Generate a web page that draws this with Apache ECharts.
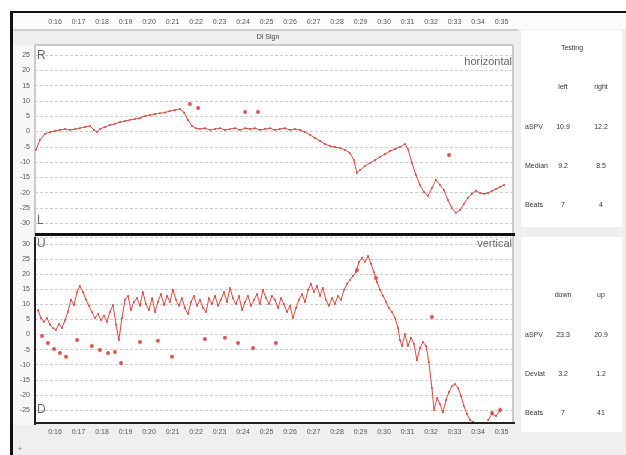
<!DOCTYPE html>
<html>
<head>
<meta charset="utf-8">
<script src="https://cdn.jsdelivr.net/npm/echarts@6/dist/echarts.min.js"></script>
<style>
  html, body { margin: 0; padding: 0; background: #fff; }
  #chart { width: 626px; height: 455px; }
</style>
</head>
<body>
<div id="chart"></div>
<script>
// horizontal trace (deg/s over time in s)
var hTime = [15.19,15.36,15.57,15.79,16.00,16.21,16.43,16.64,16.85,17.06,17.28,17.49,17.66,17.79,17.91,18.13,18.34,18.55,18.77,18.98,19.19,19.40,19.62,19.83,20.04,20.26,20.47,20.68,20.89,21.11,21.32,21.49,21.66,21.83,22.00,22.17,22.38,22.60,22.81,23.02,23.23,23.45,23.66,23.87,24.09,24.30,24.51,24.72,24.94,25.15,25.36,25.57,25.79,26.00,26.21,26.43,26.64,26.85,27.06,27.28,27.49,27.70,27.91,28.13,28.34,28.55,28.72,28.85,28.98,29.19,29.40,29.62,29.83,30.04,30.26,30.47,30.68,30.89,31.02,31.19,31.36,31.53,31.70,31.87,32.04,32.21,32.38,32.55,32.72,32.89,33.06,33.23,33.40,33.57,33.74,33.91,34.09,34.26,34.43,34.60,34.77,34.94,35.11];
var hVal = [-6.0,-2.8,-0.8,-0.2,0.2,0.5,0.8,0.5,0.8,1.1,1.5,1.8,0.5,-0.2,0.8,1.5,2.1,2.5,3.1,3.4,3.8,4.1,4.4,5.1,5.4,5.7,6.0,6.2,6.7,7.0,7.4,6.2,3.8,1.8,1.1,0.8,1.1,0.5,0.8,1.1,0.5,0.8,1.1,0.5,1.1,0.8,1.1,0.5,0.8,1.1,0.5,0.8,1.1,0.5,0.8,0.5,-0.2,-1.1,-2.1,-3.1,-4.1,-4.7,-5.1,-5.4,-6.0,-7.0,-9.3,-13.6,-12.6,-11.3,-10.3,-9.3,-8.3,-7.4,-6.4,-5.7,-5.1,-4.1,-5.7,-10.3,-14.2,-17.5,-19.8,-21.1,-18.5,-15.8,-17.5,-19.1,-22.4,-25.0,-26.6,-25.7,-23.7,-21.7,-20.4,-19.4,-20.1,-20.4,-20.1,-19.4,-18.8,-18.1,-17.5];
var hOutTime = [21.74,22.09,24.09,24.64,32.77];
var hOutVal = [9.0,7.7,6.4,6.4,-7.7];

// vertical trace
var vTime = [15.28,15.40,15.53,15.66,15.79,15.91,16.04,16.17,16.30,16.43,16.55,16.68,16.81,16.94,17.06,17.19,17.32,17.45,17.57,17.70,17.83,17.96,18.09,18.21,18.34,18.47,18.60,18.72,18.85,18.98,19.11,19.23,19.36,19.49,19.62,19.74,19.87,20.00,20.13,20.26,20.38,20.51,20.64,20.77,20.89,21.02,21.15,21.28,21.40,21.53,21.66,21.79,21.91,22.04,22.17,22.30,22.43,22.55,22.68,22.81,22.94,23.06,23.19,23.32,23.45,23.57,23.70,23.83,23.96,24.09,24.21,24.34,24.47,24.60,24.72,24.85,24.98,25.11,25.23,25.36,25.49,25.62,25.74,25.87,26.00,26.13,26.26,26.38,26.51,26.64,26.77,26.89,27.02,27.15,27.28,27.40,27.53,27.66,27.79,27.91,28.04,28.17,28.30,28.43,28.55,28.68,28.81,28.94,29.06,29.19,29.32,29.45,29.57,29.70,29.83,29.96,30.09,30.21,30.34,30.47,30.60,30.68,30.77,30.89,31.02,31.15,31.28,31.40,31.53,31.66,31.79,31.91,32.04,32.13,32.26,32.38,32.51,32.64,32.77,32.89,33.02,33.15,33.28,33.40,33.53,33.66,33.79,34.10,34.43,34.60,34.77,34.94];
var vVal = [8.1,5.5,4.2,5.5,3.2,2.2,1.5,3.5,2.2,4.8,7.5,11.5,9.8,14.1,16.1,14.1,11.5,9.5,7.5,5.5,6.8,4.8,6.2,4.2,7.5,9.8,3.2,-1.8,5.5,11.5,12.8,8.1,10.8,12.1,9.5,14.1,10.1,8.1,12.1,7.5,10.8,13.4,9.8,12.8,10.8,14.8,11.5,9.5,12.1,8.8,6.8,10.8,12.8,9.5,11.5,8.8,7.5,12.1,10.1,12.8,9.5,11.5,14.1,10.8,15.4,12.1,10.1,12.8,8.1,10.8,12.8,9.5,11.5,13.4,10.1,14.8,12.1,10.1,12.8,11.5,8.8,12.1,10.1,7.5,9.5,5.5,8.8,11.5,13.4,10.8,14.8,16.8,14.1,16.1,12.8,15.4,11.5,9.5,12.1,10.1,12.8,11.5,14.8,16.8,18.1,19.4,20.7,24.1,25.4,24.1,26.0,23.4,20.7,17.4,14.8,12.8,10.8,8.8,7.5,5.5,2.2,-1.8,-3.8,0.2,-3.8,-1.1,-3.1,-8.5,-4.5,-2.5,-3.8,-9.1,-17.7,-25.0,-21.0,-23.0,-25.7,-21.7,-19.0,-17.1,-16.4,-17.7,-20.4,-23.7,-26.3,-28.3,-28.9,null,-28.3,-26.3,-27.0,-25.0];
var vOutTime = [15.45,15.70,15.96,16.21,16.47,16.94,17.57,17.91,18.26,18.55,18.81,19.62,20.38,20.98,22.38,23.23,23.79,24.43,25.40,28.85,29.66,32.04,34.60,34.94];
var vOutVal = [-0.5,-2.8,-4.8,-6.1,-7.4,-1.8,-3.8,-5.1,-6.1,-5.8,-9.4,-2.5,-2.1,-7.4,-1.5,-1.1,-2.8,-4.5,-2.8,21.4,18.7,5.8,-26.0,-25.0];

// side tables
var hCols = ['left', 'right'];
var hRows = ['aSPV', 'Median', 'Beats'];
var hCells = [['10.9', '12.2'], ['9.2', '8.5'], ['7', '4']];
var vCols = ['down', 'up'];
var vRows = ['aSPV', 'Deviat', 'Beats'];
var vCells = [['23.3', '20.9'], ['3.2', '1.2'], ['7', '41']];

function zip(t, v) {
  return t.map(function (x, i) { return v[i] == null ? [x, null] : [x, v[i]]; });
}

var RED = '#e8453c';
var FONT = 'Liberation Sans';
var chart = echarts.init(document.getElementById('chart'));

var xBase = {
  type: 'value', min: 15.15, max: 35.49, splitNumber: 20,
  axisLine: { show: false }, axisTick: { show: false }, splitLine: { show: false },
  axisLabel: {
    fontSize: 7, color: '#555', fontFamily: FONT,
    showMinLabel: false, showMaxLabel: false,
    formatter: function (v) { return '0:' + v; }
  }
};
function yAxisOf(idx, lo, hi) {
  return {
    type: 'value', gridIndex: idx, min: lo, max: hi, splitNumber: 12,
    axisLine: { show: false }, axisTick: { show: false },
    axisLabel: { fontSize: 7, color: '#555', margin: 5, fontFamily: FONT,
      showMinLabel: false, showMaxLabel: false },
    splitLine: { lineStyle: { color: '#cdcdcd', type: [3, 2], width: 1 } }
  };
}

// background pieces, frames and texts
var g = [
  { type: 'rect', shape: { x: 10, y: 11, width: 616, height: 444 }, style: { fill: '#efefef' }, z: -10 },
  { type: 'rect', shape: { x: 13, y: 13, width: 613, height: 16 }, style: { fill: '#fbfbfb' }, z: -9 },
  { type: 'rect', shape: { x: 13, y: 29, width: 505, height: 2 }, style: { fill: '#cfcfcf' }, z: -9 },
  { type: 'rect', shape: { x: 13, y: 45, width: 22, height: 380 }, style: { fill: '#f7f7f7' }, z: -9 },
  { type: 'rect', shape: { x: 35, y: 45, width: 478, height: 378 }, style: { fill: '#ffffff', stroke: '#9a9a9a', lineWidth: 1 }, z: -8 },
  { type: 'rect', shape: { x: 521, y: 30, width: 101, height: 197 }, style: { fill: '#ffffff' }, z: -8 },
  { type: 'rect', shape: { x: 521, y: 237, width: 101, height: 195 }, style: { fill: '#ffffff' }, z: -8 },
  // outer black frame
  { type: 'rect', shape: { x: 10, y: 11, width: 3, height: 444 }, style: { fill: '#111' }, z: 50 },
  { type: 'rect', shape: { x: 10, y: 11, width: 616, height: 2 }, style: { fill: '#111' }, z: 50 },
  // separator and lower axes
  { type: 'rect', shape: { x: 35, y: 233, width: 480, height: 3 }, style: { fill: '#111' }, z: 50 },
  { type: 'rect', shape: { x: 34, y: 237, width: 2, height: 188 }, style: { fill: '#222' }, z: 50 },
  { type: 'rect', shape: { x: 34, y: 422, width: 481, height: 2 }, style: { fill: '#222' }, z: 50 },
  // corner labels
  { type: 'text', left: 37, top: 50, style: { text: 'R', fontSize: 12, fill: '#666', fontFamily: FONT }, z: 60 },
  { type: 'text', left: 37, top: 215, style: { text: 'L', fontSize: 12, fill: '#666', fontFamily: FONT }, z: 60 },
  { type: 'text', left: 37, top: 238, style: { text: 'U', fontSize: 12, fill: '#666', fontFamily: FONT }, z: 60 },
  { type: 'text', left: 37, top: 404, style: { text: 'D', fontSize: 12, fill: '#666', fontFamily: FONT }, z: 60 },
  { type: 'text', right: 114, top: 56, style: { text: 'horizontal', fontSize: 11, fill: '#666', fontFamily: FONT }, z: 60 },
  { type: 'text', right: 114, top: 238, style: { text: 'vertical', fontSize: 11, fill: '#666', fontFamily: FONT }, z: 60 },
  { type: 'text', x: 268, y: 37, style: { text: 'Dl Sign', fontSize: 7, fill: '#444', align: 'center', verticalAlign: 'middle', fontFamily: FONT }, z: 60 },
  { type: 'text', x: 572, y: 48, style: { text: 'Testing', fontSize: 7, fill: '#333', align: 'center', verticalAlign: 'middle', fontFamily: FONT }, z: 60 },
  { type: 'text', x: 20, y: 449, style: { text: '+', fontSize: 7, fill: '#777', align: 'center', verticalAlign: 'middle' }, z: 60 }
];

function table(cols, rows, cells, top) {
  var colX = [563, 601];
  cols.forEach(function (c, j) {
    g.push({ type: 'text', x: colX[j], y: top, style: { text: c, fontSize: 7, fill: '#333', align: 'center', verticalAlign: 'middle', fontFamily: FONT }, z: 60 });
  });
  rows.forEach(function (r, i) {
    var y = top + 40 + i * 39;
    g.push({ type: 'text', x: 525, y: y, style: { text: r, fontSize: 7, fill: '#333', verticalAlign: 'middle', fontFamily: FONT }, z: 60 });
    cells[i].forEach(function (v, j) {
      g.push({ type: 'text', x: colX[j], y: y, style: { text: v, fontSize: 7, fill: '#333', align: 'center', verticalAlign: 'middle', fontFamily: FONT }, z: 60 });
    });
  });
}
table(hCols, hRows, hCells, 87);
table(vCols, vRows, vCells, 295);

var option = {
  animation: false,
  backgroundColor: '#ffffff',
  grid: [
    { left: 35, right: 113, top: 45, height: 188 },
    { left: 35, right: 113, top: 237, height: 186 }
  ],
  xAxis: [
    echarts.util.merge({ gridIndex: 0, position: 'top', axisLabel: { margin: 19 } }, xBase),
    echarts.util.merge({ gridIndex: 1, position: 'bottom', axisLabel: { margin: 6 } }, xBase)
  ],
  yAxis: [yAxisOf(0, -33.2, 28.3), yAxisOf(1, -29.3, 32.3)],
  graphic: g,
  series: [
    { type: 'line', xAxisIndex: 0, yAxisIndex: 0, data: zip(hTime, hVal),
      symbol: 'circle', symbolSize: 2, showSymbol: true, connectNulls: false,
      lineStyle: { color: RED, width: 1 }, itemStyle: { color: RED } },
    { type: 'scatter', xAxisIndex: 0, yAxisIndex: 0, data: zip(hOutTime, hOutVal),
      symbol: 'circle', symbolSize: 4, itemStyle: { color: '#d82a22' } },
    { type: 'line', xAxisIndex: 1, yAxisIndex: 1, data: zip(vTime, vVal),
      symbol: 'circle', symbolSize: 2, showSymbol: true, connectNulls: false,
      lineStyle: { color: RED, width: 1 }, itemStyle: { color: RED } },
    { type: 'scatter', xAxisIndex: 1, yAxisIndex: 1, data: zip(vOutTime, vOutVal),
      symbol: 'circle', symbolSize: 4, itemStyle: { color: '#d82a22' } }
  ]
};
chart.setOption(option);
</script>
</body>
</html>
